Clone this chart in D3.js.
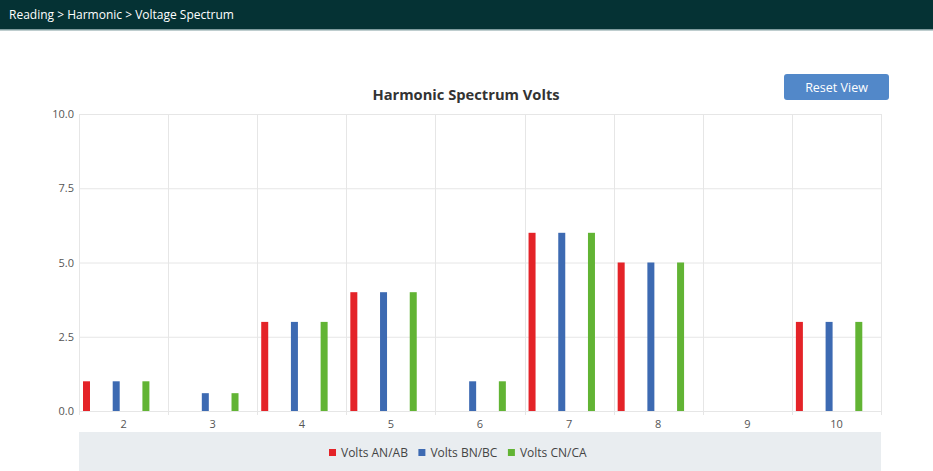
<!DOCTYPE html>
<html>
<head>
<meta charset="utf-8">
<script src="https://cdn.jsdelivr.net/npm/d3@7"></script>
<style>
  body { margin: 0; background: #fff; font-family: "Open Sans", sans-serif; }
  svg { display: block; }
</style>
</head>
<body>
<svg id="chart" width="933" height="471"></svg>
<script>
// harmonic orders on the x axis
var harmonics = ["2", "3", "4", "5", "6", "7", "8", "9", "10"];
var seriesNames = ["Volts AN/AB", "Volts BN/BC", "Volts CN/CA"];
var seriesColors = ["#e42328", "#3d6ab2", "#62b434"];
// values read per harmonic
var voltsAN = [1, 0, 3, 4, 0, 6, 5, 0, 3];
var voltsBN = [1, 0.6, 3, 4, 1, 6, 5, 0, 3];
var voltsCN = [1, 0.6, 3, 4, 1, 6, 5, 0, 3];
var yTicks = [0, 2.5, 5, 7.5, 10];

var allSeries = [voltsAN, voltsBN, voltsCN];

var svg = d3.select("#chart");
var W = 933, H = 471;

var margin = { top: 114, right: 52, bottom: 60, left: 79 },
  width = W - margin.left - margin.right,
  height = H - margin.top - margin.bottom;

// header bar
svg.append("rect").attr("x", 0).attr("y", 0).attr("width", W).attr("height", 29)
  .attr("fill", "#053234");
svg.append("rect").attr("x", 0).attr("y", 29).attr("width", W).attr("height", 1.5)
  .attr("fill", "#7f9c9e");
svg.append("text").attr("x", 9).attr("y", 19)
  .attr("fill", "#fff").style("font-size", "12px")
  .text("Reading > Harmonic > Voltage Spectrum");

// title
svg.append("text").attr("x", 466).attr("y", 100)
  .attr("text-anchor", "middle").attr("fill", "#333")
  .style("font-size", "14.7px").style("font-weight", "bold")
  .text("Harmonic Spectrum Volts");

// reset button
var btn = svg.append("g").attr("transform", "translate(784,74)");
btn.append("rect").attr("width", 105).attr("height", 26).attr("rx", 3)
  .attr("fill", "#5288c9");
btn.append("text").attr("x", 52.5).attr("y", 18)
  .attr("text-anchor", "middle").attr("fill", "#fff")
  .style("font-size", "12.5px").text("Reset View");

var x = d3.scaleBand().domain(harmonics).range([0, width]).padding(0);
var xs = d3.scaleBand().domain(d3.range(seriesNames.length)).range([0, x.bandwidth()]);
var y = d3.scaleLinear().domain([0, 10]).range([height, 0]);

var g = svg.append("g").attr("transform", "translate(" + margin.left + "," + margin.top + ")");

// horizontal grid
g.selectAll(".hgrid").data(yTicks).enter().append("line")
  .attr("x1", 0).attr("x2", width)
  .attr("y1", function(d) { return y(d) + 0.5; })
  .attr("y2", function(d) { return y(d) + 0.5; })
  .attr("stroke", "#e6e6e6");

// vertical category boundaries
var bounds = harmonics.map(function(h) { return x(h); }).concat([width]);
g.selectAll(".vgrid").data(bounds).enter().append("line")
  .attr("x1", function(d) { return Math.round(d) + 0.5; })
  .attr("x2", function(d) { return Math.round(d) + 0.5; })
  .attr("y1", 0).attr("y2", height + 4)
  .attr("stroke", "#e6e6e6");

// y axis labels
g.selectAll(".ylab").data(yTicks).enter().append("text")
  .attr("x", -5).attr("y", function(d) { return y(d) + 4; })
  .attr("text-anchor", "end").attr("fill", "#555")
  .style("font-size", "11px")
  .text(function(d) { return d3.format(".1f")(d); });

// x axis labels
g.selectAll(".xlab").data(harmonics).enter().append("text")
  .attr("x", function(d) { return x(d) + x.bandwidth() / 2; })
  .attr("y", height + 17)
  .attr("text-anchor", "middle").attr("fill", "#555")
  .style("font-size", "11px")
  .text(function(d) { return d; });

// bars, one group per series; zero values are not drawn
allSeries.forEach(function(vals, si) {
  var rows = vals.map(function(v, i) { return { h: harmonics[i], v: v }; })
    .filter(function(d) { return d.v > 0; });
  g.append("g").selectAll("rect").data(rows).enter().append("rect")
    .attr("x", function(d) { return x(d.h) + xs(si) + 4; })
    .attr("width", 7)
    .attr("y", function(d) { return y(d.v); })
    .attr("height", function(d) { return height - y(d.v); })
    .attr("fill", seriesColors[si]);
});

// legend band
svg.append("rect").attr("x", margin.left).attr("y", 432)
  .attr("width", width).attr("height", H - 432)
  .attr("fill", "#e9edf0");

var legend = svg.append("g").attr("transform", "translate(329,452)");
var lx = 0;
seriesNames.forEach(function(name, i) {
  var item = legend.append("g").attr("transform", "translate(" + lx + ",0)");
  item.append("rect").attr("x", 0).attr("y", -3).attr("width", 7).attr("height", 7)
    .attr("fill", seriesColors[i]);
  var t = item.append("text").attr("x", 12).attr("y", 4.5)
    .attr("fill", "#444").style("font-size", "12px").text(name);
  lx += 12 + t.node().getComputedTextLength() + 10.5;
});
</script>
</body>
</html>
